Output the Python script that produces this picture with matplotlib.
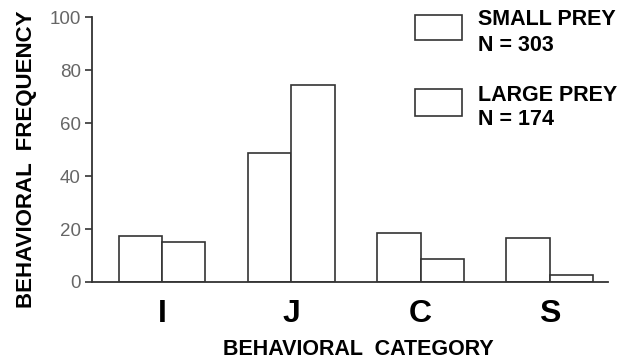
import numpy as np
import matplotlib
matplotlib.use('Agg')
import matplotlib.pyplot as plt
from matplotlib.patches import Rectangle

# data
categories = ['I', 'J', 'C', 'S']
small_prey = [17.3, 48.5, 18.6, 16.6]
large_prey = [15.2, 74.2, 8.6, 2.6]
series_names = ['SMALL PREY', 'LARGE PREY']
series_n = ['N = 303', 'N = 174']

plt.rcParams['font.family'] = ['Liberation Sans', 'DejaVu Sans']

fig = plt.figure(figsize=(6.36, 3.59), dpi=100)
ax = fig.add_axes([0.1447, 0.2145, 0.8113, 0.738])

x = np.arange(len(categories))
width = 0.335
edge = '#333333'
ax.bar(x - width / 2, small_prey, width, color='white', edgecolor=edge, linewidth=1.2)
ax.bar(x + width / 2, large_prey, width, color='white', edgecolor=edge, linewidth=1.2)

ax.set_xlim(-0.54, 3.45)
ax.set_ylim(0, 100)
ax.set_yticks([0, 20, 40, 60, 80, 100])
ax.set_xticks(x)
ax.set_xticklabels(categories, fontsize=23, fontweight='bold')
ax.tick_params(axis='x', length=0, pad=12)
ax.tick_params(axis='y', length=5, width=1.2, color=edge, labelsize=13.5,
               labelcolor='#666666', pad=3)

for side in ['top', 'right']:
    ax.spines[side].set_visible(False)
for side in ['left', 'bottom']:
    ax.spines[side].set_color(edge)
    ax.spines[side].set_linewidth(1.3)

ax.set_xlabel('BEHAVIORAL  CATEGORY', fontsize=15.5, fontweight='bold', va='top')
ax.set_ylabel('BEHAVIORAL  FREQUENCY', fontsize=16, fontweight='bold')
ax.xaxis.set_label_coords(0.517, -0.215)
ax.yaxis.set_label_coords(-0.106, 0.464)

# legend drawn by hand to match the layout
box_bottom = [0.8886, 0.677]
box_height = [0.0696, 0.075]
name_y = [0.9526, 0.742]
n_y = [0.8816, 0.673]
for i in range(2):
    fig.add_artist(Rectangle((0.6525, box_bottom[i]), 0.074, box_height[i],
                             transform=fig.transFigure, facecolor='white',
                             edgecolor=edge, linewidth=1.2))
    fig.text(0.752, name_y[i], series_names[i], fontsize=15.5, fontweight='bold',
             va='center_baseline', ha='left')
    fig.text(0.752, n_y[i], series_n[i], fontsize=15.5, fontweight='bold',
             va='center_baseline', ha='left')

plt.savefig('out.png', dpi=100)
plt.close()
